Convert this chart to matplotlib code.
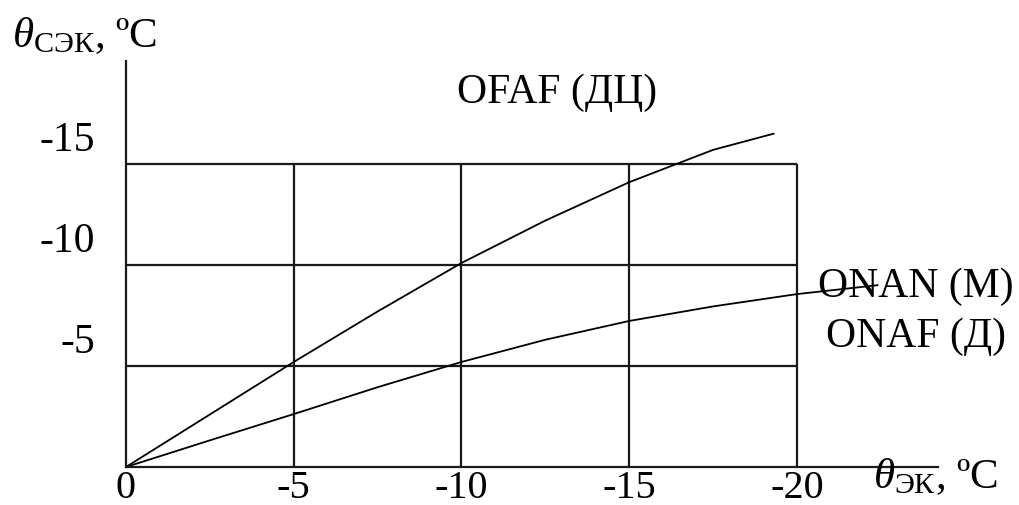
import matplotlib
matplotlib.use("Agg")
import matplotlib.pyplot as plt
import matplotlib.transforms as mtransforms

plt.rcParams['font.family'] = ['Liberation Serif', 'DejaVu Serif']
plt.rcParams['mathtext.fontset'] = 'custom'
plt.rcParams['mathtext.rm'] = 'Liberation Serif'
plt.rcParams['mathtext.it'] = 'Liberation Serif:italic'

# Temperature of the cooling system vs. ambient temperature
ofaf_x = [0, -2.5, -5, -7.5, -10, -12.5, -15, -17.5, -19.3]
ofaf_y = [0, -2.6, -5.2, -7.7, -10.1, -12.2, -14.1, -15.7, -16.5]

onan_x = [0, -2.5, -5, -7.5, -10, -12.5, -15, -17.5, -20, -22.4]
onan_y = [0, -1.32, -2.62, -3.95, -5.2, -6.3, -7.23, -7.95, -8.56, -9.0]

x_ticks = [0, -5, -10, -15, -20]
x_tick_labels = ['0', '-5', '-10', '-15', '-20']
y_ticks = [-5, -10, -15]
y_tick_labels = ['-5', '-10', '-15']

grid_x = [-5, -10, -15, -20]
grid_y = [-5, -10, -15]

W, H = 1020, 506
fig = plt.figure(figsize=(W / 100, H / 100), dpi=100)
x0, x1, y0, y1 = 126, 938, 468, 62
ax = fig.add_axes([x0 / W, 1 - y0 / H, (x1 - x0) / W, (y0 - y1) / H])

px_x = 33.55
px_y = 20.2
ax.set_xlim(0, -(x1 - x0) / px_x)
ax.set_ylim(0, -(y0 - y1) / px_y)

for s in ('top', 'right'):
    ax.spines[s].set_visible(False)
for s in ('left', 'bottom'):
    ax.spines[s].set_linewidth(1.6)
    ax.spines[s].set_color('#1a1a1a')

ink = '#1a1a1a'
ax.vlines(grid_x, 0, min(grid_y), colors=ink, lw=1.6)
ax.hlines(grid_y, 0, min(grid_x), colors=ink, lw=1.6)

ax.plot(ofaf_x, ofaf_y, color='black', lw=1.3)
ax.plot(onan_x, onan_y, color='black', lw=1.3)

ax.set_xticks(x_ticks)
ax.set_xticklabels(x_tick_labels, fontsize=29)
ax.set_yticks(y_ticks)
ax.set_yticklabels(y_tick_labels, fontsize=30)
ax.tick_params(axis='both', length=0)
ax.tick_params(axis='x', pad=1.5)
ax.tick_params(axis='y', pad=22)

shift = mtransforms.ScaledTranslation(0, 0.14, fig.dpi_scale_trans)
for lab in ax.get_yticklabels():
    lab.set_verticalalignment('baseline')
    lab.set_transform(lab.get_transform() + shift)

ax.text(-12.85, -18.07, 'OFAF (ДЦ)', fontsize=30, ha='center', va='baseline')
ax.text(-23.55, -8.47, 'ONAN (М)', fontsize=30, ha='center', va='baseline',
        clip_on=False)
ax.text(-23.55, -5.99, 'ONAF (Д)', fontsize=30, ha='center', va='baseline',
        clip_on=False)

fig.text(12 / W, 1 - 47 / H, r'$\theta_{\mathrm{СЭК}}$, ºC', fontsize=31,
         ha='left', va='baseline')
fig.text(873 / W, 1 - 488 / H, r'$\theta_{\mathrm{ЭК}}$, ºC', fontsize=31,
         ha='left', va='baseline')

fig.savefig('out.png', dpi=100)
